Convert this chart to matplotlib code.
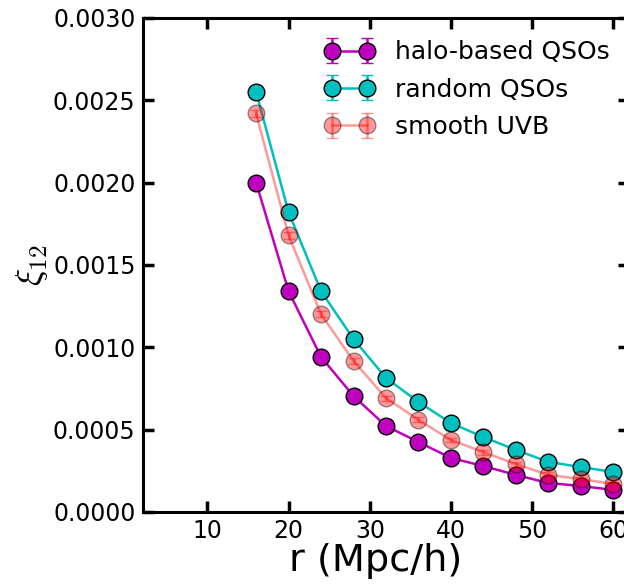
import matplotlib
matplotlib.use('Agg')
import matplotlib.pyplot as plt

# separations (Mpc/h)
r = [16, 20, 24, 28, 32, 36, 40, 44, 48, 52, 56, 60]

# two-point correlation for each UVB model
xi_halo = [0.00200, 0.00134, 0.000941, 0.000704, 0.000522, 0.000425,
           0.000328, 0.000279, 0.000225, 0.000176, 0.000158, 0.000134]
xi_random = [0.00255, 0.00182, 0.00134, 0.00105, 0.000814, 0.000668,
             0.000540, 0.000455, 0.000377, 0.000304, 0.000273, 0.000243]
xi_smooth = [0.00242, 0.00168, 0.00120, 0.000917, 0.000692, 0.000559,
             0.000437, 0.000364, 0.000291, 0.000225, 0.000200, 0.000170]

err_halo = [1.5e-5, 1.2e-5, 1e-5, 8e-6, 7e-6, 6e-6, 6e-6, 5e-6, 5e-6, 5e-6, 4e-6, 4e-6]
err_random = [1.5e-5, 1.2e-5, 1e-5, 8e-6, 7e-6, 6e-6, 6e-6, 5e-6, 5e-6, 5e-6, 4e-6, 4e-6]
err_smooth = [2e-5, 2e-5, 1.8e-5, 1.6e-5, 1.5e-5, 1.5e-5, 1.5e-5, 1.5e-5, 1.5e-5, 1.5e-5, 1.5e-5, 1.5e-5]

plt.rcParams['font.family'] = 'DejaVu Sans'
plt.rcParams['mathtext.fontset'] = 'cm'

fig = plt.figure(figsize=(6.24, 5.86), dpi=100)
ax = fig.add_axes([0.2284, 0.1263, 0.7804, 0.8430])

ax.errorbar(r, xi_halo, yerr=err_halo, fmt='o-', color='m', mec='k', mew=1,
            ms=12, lw=1.8, capsize=4, label='halo-based QSOs')
ax.errorbar(r, xi_random, yerr=err_random, fmt='o-', color='c', mec='k', mew=1,
            ms=12, lw=1.8, capsize=4, label='random QSOs')
ax.errorbar(r, xi_smooth, yerr=err_smooth, fmt='o-', color='r', ecolor='r',
            mec='k', mew=1, ms=12, lw=1.8, capsize=4, alpha=0.4,
            label='smooth UVB')

ax.set_xlim(2, 62)
ax.set_ylim(0, 0.003)
ax.set_xticks([10, 20, 30, 40, 50, 60])
ax.set_yticks([0, 0.0005, 0.001, 0.0015, 0.002, 0.0025, 0.003])
ax.set_yticklabels(['%.4f' % v for v in ax.get_yticks()])

ax.tick_params(direction='in', length=8, width=2.5, labelsize=17,
               top=True, right=True, pad=5)
for s in ax.spines.values():
    s.set_linewidth(2.2)

ax.set_xlabel('r (Mpc/h)', fontsize=27.5)
ax.xaxis.set_label_coords(0.479, -0.063)
ax.set_ylabel(r'$\xi_{12}$', fontsize=26, labelpad=2)

ax.legend(loc='upper right', numpoints=2, frameon=False, fontsize=18,
          handlelength=2.0, labelspacing=0.53, borderaxespad=0.5,
          handletextpad=0.84, bbox_to_anchor=(1.006, 1.0))

fig.savefig('out.png', dpi=100)
